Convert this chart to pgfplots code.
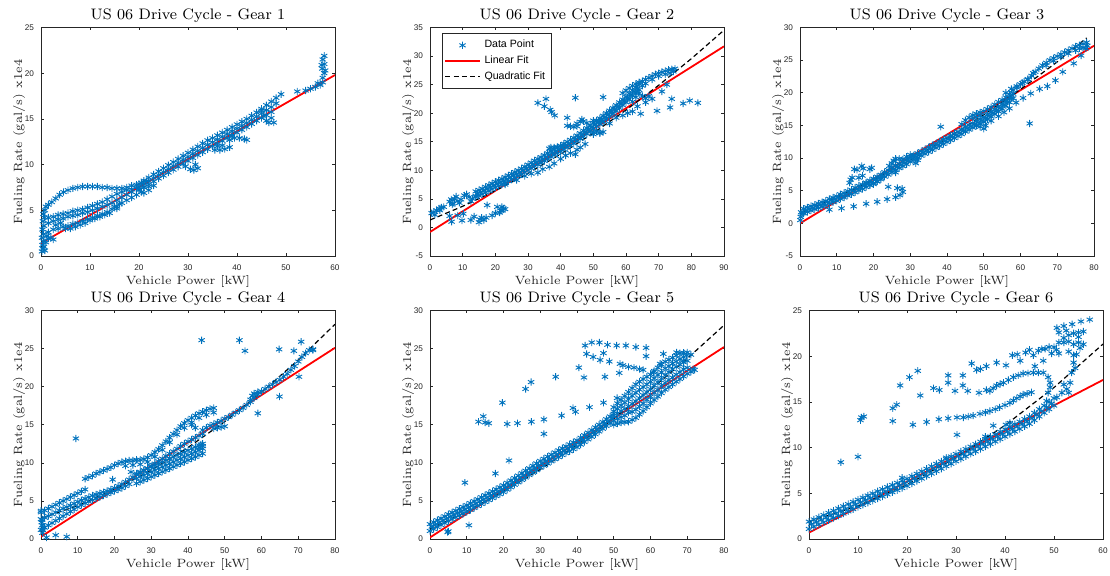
\documentclass[border=0pt]{standalone}
\usepackage{fontspec}
\setsansfont{Liberation Sans}
\usepackage{pgfplots}
\pgfplotsset{compat=1.18}

\definecolor{mblue}{RGB}{0,114,189}
\definecolor{axgray}{RGB}{38,38,38}

\pgfplotsset{
  gear/.style={
    scale only axis, width=147pt, height=114.25pt, anchor=south west,
    tick align=inside, major tick length=1.5pt,
    axis line style={draw=axgray, line width=0.4pt},
    every tick/.style={draw=axgray, line width=0.3pt},
    ticklabel style={font=\sffamily\fontsize{4.1}{4.5}\selectfont, text=axgray},
    xticklabel style={yshift=-0.8pt},
    /pgf/number format/assume math mode=true,
    xlabel={Vehicle Power [kW]},
    ylabel={Fueling Rate (gal/s) x1e4},
    label style={font=\fontsize{6}{7}\selectfont, text=axgray},
    xlabel style={yshift=4.5pt},
    ylabel style={yshift=-7pt},
    title style={font=\fontsize{7.6}{8.5}\selectfont, inner sep=1pt, yshift=-4.6pt},
  },
  dp/.style={only marks, mark=asterisk, mark size=1.8pt, color=mblue,
    mark options={line width=0.45pt}},
  lin/.style={no marks, color=red, line width=0.9pt},
  quad/.style={no marks, color=black, line width=0.6pt, dash pattern=on 2.5pt off 1.6pt},
}

\begin{document}
\begin{tikzpicture}
\path[use as bounding box] (0,0) rectangle (555pt,288pt);

% ---------------- Gear 1
\begin{axis}[gear, at={(20.5pt,160pt)}, title={US 06 Drive Cycle - Gear 1},
  xmin=0, xmax=60, ymin=0, ymax=25, xtick={0,10,...,60}, ytick={0,5,...,25}]
\addplot[dp] coordinates {(0.2,0.5) (0.4,0.8) (0.3,1.2) (0.6,1.0) (0.5,1.6) (0.2,2.0) (0.5,2.4) (0.3,2.9) (0.6,3.3) (0.4,3.8) (0.7,4.2) (0.5,4.6) (0.8,5.0) (1.0,5.4) (1.2,2.2) (1.0,1.5) (0.8,0.6) (1.5,1.9)
 (1.5,5.6) (2.2,5.9) (3,6.3) (3.8,6.7) (4.6,7.0) (5.5,7.2) (6.5,7.4) (7.5,7.5) (8.5,7.6) (9.5,7.6) (10.5,7.6) (11.5,7.6) (12.5,7.5) (13.5,7.5) (14.5,7.4) (15.5,7.4) (16.5,7.4) (17.5,7.5) (18.5,7.7) (19.5,7.8) (20.5,8.0) (21.5,8.2)
 (1.5,4.2) (2.5,4.3) (3.5,4.5) (4.5,4.6) (5.5,4.7) (6.5,4.9) (7.5,5.0) (8.5,5.1) (9.5,5.3) (10.5,5.5) (11.5,5.7) (12.5,5.9) (13.5,6.2) (14.5,6.5) (15.5,6.8) (16.5,7.0) (17.5,7.2) (18.5,7.3) (19.5,7.5)
 (1.5,3.6) (2.5,3.8) (3.5,4.0) (4.5,4.1) (5.5,4.3) (6.5,4.4) (7.5,4.5) (8.5,4.7) (9.5,4.8) (10.5,5.0) (11.5,5.2) (12.5,5.4) (13.5,5.6) (14.5,5.8) (15.5,6.1) (16.5,6.4) (17.5,6.7) (18.5,7.0)
 (1.5,2.6) (2.5,2.9) (3.5,3.0) (4.5,3.2) (5.5,3.3) (6.5,3.5) (7.5,3.6) (8.5,3.8) (9.5,4.0) (10.5,4.2) (11.5,4.4) (12.5,4.6) (13.5,4.8) (14.5,5.1) (15.5,5.4) (16.5,5.8) (17.5,6.1) (18.5,6.4) (19.5,6.7) (20.5,7.0)
 (2,2.0) (2.5,1.8) (3,3.4) (4,3.6) (5,3.0) (6,3.0) (7,3.2) (8,3.4) (9,3.6) (10,3.9) (11,4.1) (12,4.3) (13,4.5) (14,4.7) (15,5.4) (15.5,5.2) (16,5.7)
 (20,7.3) (21,7.5) (22,7.6) (21,6.9) (22,7.2) (23,7.7)
 (20,7.9) (21,8.24) (22,8.58) (23,8.92) (24,9.26) (25,9.6) (26,9.94) (27,10.28) (28,10.62) (29,10.96) (30,11.3) (31,11.64) (32,11.98) (33,12.32) (34,12.66) (35,12.9) (36,13.2) (37,13.5) (38,13.8) (39,14.1) (40,14.4) (41,14.7) (42,15.0) (43,15.35) (44,15.7) (45,16.1) (46,16.5) (47,16.9) (48,17.3) (49,17.7)
 (20,7.55) (21,7.88) (22,8.21) (23,8.54) (24,8.87) (25,9.2) (26,9.53) (27,9.86) (28,10.19) (29,10.52) (30,10.85) (31,11.18) (32,11.51) (33,11.84) (34,12.17) (35,12.45) (36,12.75) (37,13.05) (38,13.35) (39,13.65) (40,13.95) (41,14.25) (42,14.55) (43,14.9) (44,15.25) (45,15.6) (46,15.95) (47,16.3) (48,16.7)
 (20,7.2) (21,7.52) (22,7.84) (23,8.16) (24,8.48) (25,8.8) (26,9.12) (27,9.44) (28,9.76) (29,10.08) (30,10.4) (31,10.72) (32,11.04) (33,11.36) (34,11.68) (35,12.0) (36,12.3) (37,12.6) (38,12.9) (39,13.2) (40,13.5) (41,13.8) (42,14.1) (43,14.45) (44,14.8) (45,15.1) (46,15.4) (47,15.75)
 (29.5,9.8) (30.5,9.5) (31.2,9.4) (32,9.6) (31.5,10.0)
 (35.5,11.6) (36.5,11.6) (37.5,11.7) (38.5,11.9) (36,12.0) (37,12.1)
 (38.5,12.7) (39.5,12.9) (40.5,12.9) (41.5,12.8) (42,12.7) (39,13.1)
 (45,15.9) (45.5,15.3) (46,14.8) (46.5,14.6) (47.5,14.6) (47,15.1)
 (52.3,18.0) (54,18.1) (55,18.3) (56,18.5) (57,18.7) (57.5,19.0) (56.5,18.9)
 (57.5,19.5) (57.8,20.0) (57.4,20.5) (57.8,21.0) (57.5,21.5) (57.8,21.9) (57.3,20.9) (58,20.3)};
\addplot[lin] coordinates {(0,1.4) (60,19.8)};
\end{axis}

% ---------------- Gear 2
\begin{axis}[gear, at={(215pt,160pt)}, title={US 06 Drive Cycle - Gear 2},
  xmin=0, xmax=90, ymin=-5, ymax=35, xtick={0,10,...,90}, ytick={-5,0,...,35},
  legend style={at={(0.04,0.975)}, anchor=north west, font=\sffamily\fontsize{5.3}{6}\selectfont,
    draw=axgray, line width=0.4pt, inner sep=1.2pt, row sep=-1.5pt},
  legend cell align=left]
\addplot[dp] coordinates {(0.5,2.5) (1.2,2.7) (2,3.0) (2.8,3.3) (3.5,3.5) (4.2,3.6) (1.5,2.2) (3,3.0)
 (6,4.5) (6.5,4.9) (7,4.2) (7.5,5.0) (8,5.4) (8.5,4.6) (9,4.3) (9.5,4.9) (10.5,5.6) (11.2,5.8) (12,5.3) (12.5,4.6) (13,5.0) (6.8,4.0) (14,5.5)
 (6,2.0) (6.6,1.0) (8.5,2.1) (9.8,1.2) (10.2,2.4) (12.5,1.3) (13.5,1.9) (15,0.9) (15.3,1.4) (15.8,1.7) (16.5,1.3) (17.2,1.7) (17.5,3.9) (19,2.1) (20,2.5) (20.6,3.6) (21.3,2.6) (22,3.0) (22.5,3.3) (23,3.2) (22,3.6) (21.7,2.9)
 (14,6.3) (15,6.55) (16,6.8) (17,7.1) (18,7.4) (19,7.7) (20,8.0) (21,8.25) (22,8.5) (23,8.8) (24,9.1) (25,9.4) (26,9.7) (27,10.0) (28,10.3) (29,10.65) (30,11.0) (31,11.35) (32,11.7) (33,12.0) (34,12.3) (35,12.65) (36,13.0) (37,13.35) (38,13.7) (39,14.0) (40,14.3) (41,14.65) (42,15.0) (43,15.35) (44,15.7) (45,16.1) (46,16.5) (47,16.95) (48,17.4) (49,17.85) (50,18.3) (51,18.7) (52,19.1) (53,19.55) (54,20.0) (55,20.45) (56,20.9) (57,21.4) (58,21.9) (59,22.4) (60,22.9) (61,23.45) (62,24.0) (63,24.55) (64,25.1)
 (14,5.3) (15,5.55) (16,5.8) (17,6.1) (18,6.4) (19,6.7) (20,7.0) (21,7.25) (22,7.5) (23,7.8) (24,8.1) (25,8.4) (26,8.7) (27,9.0) (28,9.3) (29,9.65) (30,10.0) (31,10.35) (32,10.7) (33,11.0) (34,11.3) (35,11.65) (36,12.0) (37,12.35) (38,12.7) (39,13.0) (40,13.3) (41,13.65) (42,14.0) (43,14.35) (44,14.7) (45,15.1) (46,15.5) (47,15.95) (48,16.4) (49,16.85) (50,17.3) (51,17.7) (52,18.1) (53,18.55) (54,19.0) (55,19.45) (56,19.9) (57,20.4) (58,20.9) (59,21.4) (60,21.9) (61,22.45) (62,23.0) (63,23.55) (64,24.1)
 (14.5,5.93) (15.5,6.18) (16.5,6.45) (17.5,6.75) (18.5,7.05) (19.5,7.35) (20.5,7.63) (21.5,7.88) (22.5,8.15) (23.5,8.45) (24.5,8.75) (25.5,9.05) (26.5,9.35) (27.5,9.65) (28.5,9.98) (29.5,10.33) (30.5,10.68) (31.5,11.03) (32.5,11.35) (33.5,11.65) (34.5,11.98) (35.5,12.33) (36.5,12.68) (37.5,13.03) (38.5,13.35) (39.5,13.65) (40.5,13.98) (41.5,14.33) (42.5,14.68) (43.5,15.03) (44.5,15.4) (45.5,15.8) (46.5,16.23) (47.5,16.68) (48.5,17.13) (49.5,17.58) (50.5,18.0) (51.5,18.4) (52.5,18.83) (53.5,19.28) (54.5,19.73) (55.5,20.18) (56.5,20.65) (57.5,21.15) (58.5,21.65) (59.5,22.15) (60.5,22.68) (61.5,23.23) (62.5,23.78) (63.5,24.33)
 (59,23.5) (60,24.0) (61,24.4) (62,24.8) (63,25.1) (64,25.4) (65,25.6) (66,25.9) (67,26.2) (68,26.5) (69,26.8) (70,27.0) (71,27.2) (72,27.4) (73,27.6) (74,27.7) (75,27.8) (74.5,27.3) (73.5,27.0) (72,26.8) (70,26.5) (68,25.9) (66,25.2) (65,24.8) (64,23.5) (65,23.0) (66,22.6) (63,22.8) (62,22.0)
 (23,7.5) (26.5,8.3) (29,9.0) (31,9.4) (33,9.6) (34.5,10.2) (36.5,10.6) (38,11.2) (40,12.0) (41.5,12.6) (43,13.0) (44.5,12.8) (45,13.6) (46,14.0) (47.5,14.6) (50,16.3) (52,16.5) (55,18.2) (57,19.2) (59,19.6) (60.5,20.0) (62,20.3) (64.5,19.9) (63.5,21.2) (66,21.9) (67,23.0) (68,22.5) (69.5,20.4) (71,23.8) (72.5,25.0) (73.5,21.0) (74,22.5) (77.5,21.7) (79.5,22.2) (82,21.8)
 (33,21.8) (35,21.2) (35.5,22.5) (36.8,20.6) (37.2,20.2) (38.2,19.6) (42,19.2) (44.5,22.7) (53,22.8)
 (42,17.8) (43,17.7) (44,17.6) (45,17.7) (46,18.5) (47,18.6) (48,18.3) (46.5,18.9) (45,18.2)
 (37,14.0) (38,14.0) (39,14.1) (40,14.2) (41,14.3) (36.5,13.8)
 (50,16.7) (51,16.8) (52,16.6) (53,16.7) (50,18.7) (51,18.6) (52.5,18.5)};
\addlegendentry{Data Point}
\addplot[lin] coordinates {(0,-0.8) (90,31.7)};
\addlegendentry{Linear Fit}
\addplot[quad] coordinates {(0,1.30) (10,3.70) (20,6.42) (30,9.47) (40,12.84) (50,16.53) (60,20.54) (70,24.88) (80,29.54) (90,34.53)};
\addlegendentry{Quadratic Fit}
\end{axis}

% ---------------- Gear 3
\begin{axis}[gear, at={(400pt,160pt)}, title={US 06 Drive Cycle - Gear 3},
  xmin=0, xmax=80, ymin=-5, ymax=30, xtick={0,10,...,80}, ytick={-5,0,...,30}]
\addplot[dp] coordinates {(0.1,0.5) (0.2,1.0) (0.3,1.7) (0.6,1.5)
 (1,2.25) (2,2.45) (3,2.65) (4,2.85) (5,3.05) (6,3.25) (7,3.45) (8,3.75) (9,3.95) (10,4.15) (11,4.45) (12,4.65) (13,4.95) (14,5.15) (15,5.45) (16,5.75) (17,5.95) (18,6.25) (19,6.55) (20,6.85) (21,7.15) (22,7.45) (23,7.85) (24,8.15) (25,8.55) (26,8.85) (27,9.15) (28,9.45) (29,9.75) (30,10.15) (31,10.45) (32,10.75) (33,11.05) (34,11.35) (35,11.65) (36,11.95) (37,12.25) (38,12.55) (39,12.85) (40,13.15) (41,13.45) (42,13.75) (43,14.05) (44,14.35) (45,14.75) (46,15.05) (47,15.35) (48,15.65) (49,15.95) (50,16.25) (51,16.65) (52,17.05) (53,17.45) (54,17.85) (55,18.25) (56,18.75) (57,19.25) (58,19.85)
 (1,1.55) (2,1.75) (3,1.95) (4,2.15) (5,2.35) (6,2.55) (7,2.75) (8,3.05) (9,3.25) (10,3.45) (11,3.75) (12,3.95) (13,4.25) (14,4.45) (15,4.75) (16,5.05) (17,5.25) (18,5.55) (19,5.85) (20,6.15) (21,6.45) (22,6.75) (23,7.15) (24,7.45) (25,7.85) (26,8.15) (27,8.45) (28,8.75) (29,9.05) (30,9.45) (31,9.75) (32,10.05) (33,10.35) (34,10.65) (35,10.95) (36,11.25) (37,11.55) (38,11.85) (39,12.15) (40,12.45) (41,12.75) (42,13.05) (43,13.35) (44,13.65) (45,14.05) (46,14.35) (47,14.65) (48,14.95) (49,15.25) (50,15.55) (51,15.95) (52,16.35) (53,16.75) (54,17.15) (55,17.55) (56,18.05) (57,18.55) (58,19.15)
 (1.5,2.0) (2.5,2.2) (3.5,2.4) (4.5,2.6) (5.5,2.8) (6.5,3.0) (7.5,3.25) (8.5,3.5) (9.5,3.7) (10.5,3.95) (11.5,4.2) (12.5,4.45) (13.5,4.7) (14.5,4.95) (15.5,5.25) (16.5,5.5) (17.5,5.75) (18.5,6.05) (19.5,6.35) (20.5,6.65) (21.5,6.95) (22.5,7.3) (23.5,7.65) (24.5,8.0) (25.5,8.35) (26.5,8.65) (27.5,8.95) (28.5,9.25) (29.5,9.6) (30.5,9.95) (31.5,10.25) (32.5,10.55) (33.5,10.85) (34.5,11.15) (35.5,11.45) (36.5,11.75) (37.5,12.05) (38.5,12.35) (39.5,12.65) (40.5,12.95) (41.5,13.25) (42.5,13.55) (43.5,13.85) (44.5,14.2) (45.5,14.55) (46.5,14.85) (47.5,15.15) (48.5,15.45) (49.5,15.75) (50.5,16.1) (51.5,16.5) (52.5,16.9) (53.5,17.3) (54.5,17.7) (55.5,18.15) (56.5,18.65) (57.5,19.2)
 (44,15.2) (45,15.8) (46,16.2) (47,16.6) (48,16.8) (49,17.0) (50,17.2) (51,17.5) (52,17.8) (53,18.2) (54,18.6) (55,18.9) (56,19.3) (57,19.8) (47,16.2) (48,16.3) (49,16.5)
 (58,20.4) (59,20.8) (60,21.3) (61,21.7) (62,22.1) (63,22.6) (64,23.2) (65,23.7) (66,24.2) (67,24.6) (68,25.0) (69,25.3) (70,25.6) (71,25.9) (72,26.2) (73,26.5) (74,26.8) (75,27.1) (76,27.3) (77,27.5) (78,27.7) (78.2,27.2) (77.8,26.8) (77,26.9) (76,26.8) (75,26.5) (73,26.0) (71,25.5) (69,24.9) (67,24.2)
 (56,20.0) (57.5,20.6) (59,21.0) (60.5,21.5) (62,22.0) (63.5,23.0)
 (8,2.1) (11.3,2.3) (14.6,2.6) (18,3.0) (21,3.3) (23.7,3.7) (26,4.0) (27.2,4.3) (28,4.8) (27.8,5.3) (26.5,5.4) (24,5.6)
 (13.5,6.2) (13.8,6.7) (14.2,7.0) (14.8,8.3) (15.5,8.2) (16.8,8.8) (17.2,8.4) (19,8.3) (19.5,8.5) (16,7.0) (17,7.3) (18,6.1) (19,5.9) (20,6.0) (21,6.4) (22,7.0)
 (25.5,9.6) (26,9.9) (27,9.9) (28,9.8) (29,10.2) (30,10.5) (31,10.3) (32,9.7) (31.5,9.2) (24.3,8.8) (26,7.8) (25,9.2)
 (38.3,14.8)
 (50,14.5) (50.5,15.0) (52,15.7) (54,16.4) (55.5,17.0) (57,17.6) (58.8,18.5) (60.7,19.2) (62.8,19.9) (65.2,20.6) (67.3,21.0) (69.5,21.9) (71.5,23.2) (74.5,24.5) (76.5,25.7) (62.5,15.3) (48,15.0) (49,14.8)};
\addplot[lin] coordinates {(0,0) (80,27.2)};
\addplot[quad] coordinates {(0,1.57) (10,3.98) (20,6.69) (30,9.70) (40,13.01) (50,16.62) (60,20.53) (70,24.74) (78,28.4)};
\end{axis}

% ---------------- Gear 4
\begin{axis}[gear, at={(20.5pt,18.5pt)}, title={US 06 Drive Cycle - Gear 4},
  xmin=0, xmax=80, ymin=0, ymax=30, xtick={0,10,...,80}, ytick={0,5,...,30}]
\addplot[dp] coordinates {(0,3.7) (0.3,2.5) (0.3,1.8) (0.5,1.2) (0.4,0.8) (1.5,0.2) (4,0.5) (7,0.3) (0.2,2.2) (0.6,1.5)
 (0,3.5) (1,3.75) (2,4.0) (3,4.25) (4,4.5) (5,4.75) (6,5.0) (7,5.25) (8,5.5) (9,5.75) (10,6.0) (11,6.25) (12,6.5)
 (12,7.9) (13,8.1) (14,8.3) (15,8.6) (16,8.8) (17,9.0) (18,9.2) (19,9.4) (20,9.7) (21,9.9) (22,10.1)
 (23,10.2) (24,10.3) (25,10.3) (26,10.4) (27,10.4) (28,10.5) (29,10.7) (30,11.0) (31,11.4) (32,11.8) (33,12.3) (34,12.8) (35,13.3) (36,13.8) (37,14.3) (38,14.8) (39,15.2) (40,15.6) (41,15.9) (42,16.2) (43,16.5) (44,16.7) (45,16.9) (46,17.1) (47,17.2)
 (23,9.6) (25,9.7) (27,9.8) (29,10.1) (31,10.8) (33,11.7) (35,12.7) (37,13.7) (39,14.6) (41,15.3) (43,15.9) (45,16.3) (47,16.6)
 (0,2.6) (1,2.8) (2,3.0) (3,3.25) (4,3.5) (5,3.75) (6,4.0) (7,4.2) (8,4.4) (9,4.65) (10,4.9) (11,5.1) (12,5.3) (13,5.5) (14,5.7) (15,5.85) (16,6.0) (17,6.15) (18,6.3) (19,6.5) (20,6.7) (21,6.95) (22,7.2) (23,7.5) (24,7.8) (25,8.1) (26,8.4) (27,8.7) (28,9.0) (29,9.3) (30,9.6) (31,9.9) (32,10.2) (33,10.55) (34,10.9) (35,11.2) (36,11.5) (37,11.85) (38,12.2) (39,12.5) (40,12.8) (41,13.05) (42,13.3) (43,13.55) (44,13.8)
 (0,1.2) (1,1.5) (2,1.8) (3,2.1) (4,2.4) (5,2.7) (6,3.0) (7,3.3) (8,3.6) (9,3.9) (10,4.2) (11,4.45) (12,4.7) (13,4.9) (14,5.1) (15,5.3) (16,5.5) (17,5.7) (18,5.9) (19,6.1) (20,6.3) (21,6.5) (22,6.7) (23,6.95) (24,7.2)
 (26,7.3) (27,7.52) (28,7.73) (29,7.95) (30,8.17) (31,8.39) (32,8.6) (33,8.82) (34,9.04) (35,9.25) (36,9.47) (37,9.69) (38,9.9) (39,10.12) (40,10.34) (41,10.56) (42,10.77) (43,10.99) (44,11.21)
 (26,7.95) (27,8.17) (28,8.38) (29,8.6) (30,8.82) (31,9.04) (32,9.25) (33,9.47) (34,9.69) (35,9.9) (36,10.12) (37,10.34) (38,10.55) (39,10.77) (40,10.99) (41,11.21) (42,11.42) (43,11.64) (44,11.86)
 (26,8.6) (27,8.82) (28,9.03) (29,9.25) (30,9.47) (31,9.69) (32,9.9) (33,10.12) (34,10.34) (35,10.55) (36,10.77) (37,10.99) (38,11.2) (39,11.42) (40,11.64) (41,11.86) (42,12.07) (43,12.29) (44,12.51)
 (44,14.3) (45,14.6) (46,14.9) (47,15.1) (48,15.3) (49,15.5) (50,15.8) (51,16.0) (52,16.3) (53,16.6) (54,16.9) (55,17.2) (56,17.6) (57,18.0) (58,18.5) (59,19.0) (60,19.4) (61,19.7) (62,20.0) (63,20.3) (64,20.6) (65,20.9) (66,21.3) (67,21.7) (68,22.2) (69,22.7) (70,23.3) (71,23.9) (72,24.4) (73,24.8) (74,24.9)
 (57,18.3) (57.5,18.8) (58,19.1) (59,19.3) (47,14.5) (48,14.6) (49,14.7) (50,14.8) (43,12.0) (43.5,12.4) (44,12.2)
 (9.5,13.2) (43.7,26.1) (54,26.1) (55.5,24.7) (64.8,24.9) (68.8,24.7) (70.8,25.9) (74,24.8) (70.2,21.3) (64.9,18.7) (59,16.5) (41,15.0) (42,14.6) (24.5,8.8) (19.5,7.8)};
\addplot[lin] coordinates {(0,0.3) (80,25.1)};
\addplot[quad] coordinates {(0,2.70) (10,4.39) (20,6.50) (30,9.04) (40,12.01) (50,15.41) (60,19.24) (70,23.50) (80,28.19)};
\end{axis}

% ---------------- Gear 5
\begin{axis}[gear, at={(215pt,18.5pt)}, title={US 06 Drive Cycle - Gear 5},
  xmin=0, xmax=80, ymin=0, ymax=30, xtick={0,10,...,80}, ytick={0,5,...,30}]
\addplot[dp] coordinates {(0,1.95) (1,2.21) (2,2.47) (3,2.73) (4,2.99) (5,3.25) (6,3.49) (7,3.73) (8,3.97) (9,4.21) (10,4.45) (11,4.71) (12,4.97) (13,5.23) (14,5.49) (15,5.75) (16,6.01) (17,6.27) (18,6.53) (19,6.79) (20,7.05) (21,7.37) (22,7.69) (23,8.01) (24,8.33) (25,8.65) (26,8.97) (27,9.29) (28,9.61) (29,9.93) (30,10.25) (31,10.53) (32,10.81) (33,11.09) (34,11.37) (35,11.65) (36,11.91) (37,12.17) (38,12.43) (39,12.69) (40,12.95) (41,13.29) (42,13.63) (43,13.97) (44,14.31) (45,14.65) (46,15.01) (47,15.37) (48,15.73) (49,16.09) (50,16.45)
 (0,1.05) (1,1.31) (2,1.57) (3,1.83) (4,2.09) (5,2.35) (6,2.59) (7,2.83) (8,3.07) (9,3.31) (10,3.55) (11,3.81) (12,4.07) (13,4.33) (14,4.59) (15,4.85) (16,5.11) (17,5.37) (18,5.63) (19,5.89) (20,6.15) (21,6.47) (22,6.79) (23,7.11) (24,7.43) (25,7.75) (26,8.07) (27,8.39) (28,8.71) (29,9.03) (30,9.35) (31,9.63) (32,9.91) (33,10.19) (34,10.47) (35,10.75) (36,11.01) (37,11.27) (38,11.53) (39,11.79) (40,12.05) (41,12.39) (42,12.73) (43,13.07) (44,13.41) (45,13.75) (46,14.11) (47,14.47) (48,14.83) (49,15.19) (50,15.55)
 (0.5,1.63) (1.5,1.89) (2.5,2.15) (3.5,2.41) (4.5,2.67) (5.5,2.92) (6.5,3.16) (7.5,3.40) (8.5,3.64) (9.5,3.88) (10.5,4.13) (11.5,4.39) (12.5,4.65) (13.5,4.91) (14.5,5.17) (15.5,5.43) (16.5,5.69) (17.5,5.95) (18.5,6.21) (19.5,6.47) (20.5,6.76) (21.5,7.08) (22.5,7.40) (23.5,7.72) (24.5,8.04) (25.5,8.36) (26.5,8.68) (27.5,9.0) (28.5,9.32) (29.5,9.64) (30.5,9.94) (31.5,10.22) (32.5,10.5) (33.5,10.78) (34.5,11.06) (35.5,11.33) (36.5,11.59) (37.5,11.85) (38.5,12.11) (39.5,12.37) (40.5,12.67) (41.5,13.01) (42.5,13.35) (43.5,13.69) (44.5,14.03) (45.5,14.38) (46.5,14.74) (47.5,15.1) (48.5,15.46) (49.5,15.82)
 (50,17.3) (51,17.8) (52,18.3) (53,18.8) (54,19.3) (55,19.8) (56,20.3) (57,20.65) (58,21.0) (59,21.3) (60,21.6) (61,22.05) (62,22.5) (63,22.9) (64,23.3) (65,23.55) (66,23.8) (67,24.1) (68,24.4) (69,24.45) (70,24.5) (71,24.2)
 (50,16.2) (51,16.5) (52,16.8) (53,17.1) (54,17.4) (55,17.75) (56,18.1) (57,18.5) (58,18.9) (59,19.3) (60,19.7) (61,20.15) (62,20.6) (63,21.05) (64,21.5) (65,21.9) (66,22.3) (67,22.6) (68,22.9) (69,23.2) (70,23.4)
 (50,15.0) (51,15.15) (52,15.3) (53,15.35) (54,15.4) (55,15.65) (56,15.9) (57,16.35) (58,16.8) (59,17.3) (60,17.8) (61,18.25) (62,18.7) (63,19.15) (64,19.6) (65,19.95) (66,20.3) (67,20.65) (68,21.0) (69,21.35) (70,21.7) (71,21.95) (72,22.2)
 (50,16.75) (52,17.55) (54,18.35) (56,19.2) (58,19.95) (60,20.65) (62,21.55) (64,22.4) (66,23.05) (68,23.65)
 (51,15.8) (53,16.2) (55,16.7) (57,17.4) (59,18.3) (61,19.2) (63,20.1) (65,20.9) (67,21.6) (69,22.3)
 (51,17.1) (53,17.9) (55,18.8) (57,19.6) (59,20.3) (61,21.1) (63,21.9) (65,22.7) (67,23.3) (69,23.9)
 (52,16.0) (54,16.6) (56,17.0) (58,17.8) (60,18.7) (62,19.6) (64,20.5) (66,21.2) (68,21.9) (70,22.5)
 (63.5,24.3) (67.1,24.5) (69.8,24.1) (68.9,23.4) (62.6,23.0) (60.8,21.9) (71.6,22.3)
 (44.0,25.8) (42.2,25.4) (42.6,24.3) (44.4,23.9) (46.1,25.8) (48.3,25.5) (50.8,25.4) (53.3,25.4) (56.0,25.2) (58.8,25.1) (58.8,24.0) (47.2,24.4) (46.3,23.5) (48.8,23.3) (51.7,23.0) (52.5,22.8) (54,22.6) (55.5,22.5) (57,22.3) (58,22.2) (51.5,21.8) (47.6,21.3) (40.5,22.5) (41.9,21.2) (47.2,17.9) (50.9,18.5) (38.9,17.2) (39.6,16.7) (43.4,17.3) (35.8,16.2)
 (9.5,7.4) (17.8,8.6) (21.5,10.3) (19.7,17.9) (26,19.7) (27.5,20.6) (34.2,21.3) (13.2,15.4) (14.5,16.1) (15,15.3) (16,15.2) (21,15.1) (23.8,15.2) (27.6,15.4) (31,15.7) (31,13.8) (10.6,1.8) (5,1.0) (4.8,0.9)};
\addplot[lin] coordinates {(0,0.2) (80,25.2)};
\addplot[quad] coordinates {(0,1.30) (10,3.62) (20,6.23) (30,9.13) (40,12.33) (50,15.83) (60,19.61) (70,23.69) (80,28.06)};
\end{axis}

% ---------------- Gear 6
\begin{axis}[gear, at={(404.5pt,18.5pt)}, title={US 06 Drive Cycle - Gear 6},
  xmin=0, xmax=60, ymin=0, ymax=25, xtick={0,10,...,60}, ytick={0,5,...,25}]
\addplot[dp] coordinates {(0,1.9) (1,2.14) (2,2.38) (3,2.62) (4,2.86) (5,3.1) (6,3.34) (7,3.58) (8,3.82) (9,4.06) (10,4.3) (11,4.53) (12,4.76) (13,4.99) (14,5.22) (15,5.45) (16,5.68) (17,5.91) (18,6.14) (19,6.37) (20,6.6) (21,6.87) (22,7.14) (23,7.41) (24,7.68) (25,7.95) (26,8.22) (27,8.49) (28,8.76) (29,9.03) (30,9.3) (31,9.57) (32,9.84) (33,10.11) (34,10.38) (35,10.65) (36,10.92) (37,11.19) (38,11.46) (39,11.73) (40,12.0) (41,12.28) (42,12.56) (43,12.84) (44,13.12) (45,13.4) (46,13.8) (47,14.2) (48,14.6) (49,15.0) (50,15.4)
 (0,1.1) (1,1.34) (2,1.58) (3,1.82) (4,2.06) (5,2.3) (6,2.54) (7,2.78) (8,3.02) (9,3.26) (10,3.5) (11,3.73) (12,3.96) (13,4.19) (14,4.42) (15,4.65) (16,4.88) (17,5.11) (18,5.34) (19,5.57) (20,5.8) (21,6.07) (22,6.34) (23,6.61) (24,6.88) (25,7.15) (26,7.42) (27,7.69) (28,7.96) (29,8.23) (30,8.5) (31,8.77) (32,9.04) (33,9.31) (34,9.58) (35,9.85) (36,10.12) (37,10.39) (38,10.66) (39,10.93) (40,11.2) (41,11.48) (42,11.76) (43,12.04) (44,12.32) (45,12.6) (46,13.0) (47,13.4) (48,13.8) (49,14.2) (50,14.6)
 (0.5,1.62) (1.5,1.86) (2.5,2.1) (3.5,2.34) (4.5,2.58) (5.5,2.82) (6.5,3.06) (7.5,3.3) (8.5,3.54) (9.5,3.78) (10.5,4.02) (11.5,4.25) (12.5,4.48) (13.5,4.71) (14.5,4.94) (15.5,5.17) (16.5,5.4) (17.5,5.63) (18.5,5.86) (19.5,6.09) (20.5,6.34) (21.5,6.61) (22.5,6.88) (23.5,7.15) (24.5,7.42) (25.5,7.69) (26.5,7.96) (27.5,8.23) (28.5,8.5) (29.5,8.77) (30.5,9.04) (31.5,9.31) (32.5,9.58) (33.5,9.85) (34.5,10.12) (35.5,10.39) (36.5,10.66) (37.5,10.93) (38.5,11.2) (39.5,11.47) (40.5,11.74) (41.5,12.02) (42.5,12.3) (43.5,12.58) (44.5,12.86) (45.5,13.2) (46.5,13.6) (47.5,14.0) (48.5,14.4) (49.5,14.8)
 (36,11.2) (41,12.7) (40.2,12.5) (28,8.9) (19,6.7)
 (50.6,15.5) (51.6,16.0) (52.6,16.4) (53.3,17.1) (53.6,18.2) (54.3,18.7) (54.0,19.3) (54.6,20.2) (55.3,20.9) (52,16.9) (53,16.0)
 (57.3,24.0) (55.5,23.8) (53.7,23.5) (52.0,23.3) (50.6,23.1)
 (50,21.0) (51,21.5) (52,22.0) (53,22.3) (54,22.5) (55,22.6) (56,22.7) (51,22.6) (52.5,22.8) (52,21.5) (54,21.3) (56,21.3) (55,21.5) (50.5,20.7) (53,20.5) (54,20.1) (51,20.3) (49.5,20.3) (53,21.6) (55,22.1)
 (33.2,19.2) (34.2,18.5) (35,18.6) (36.2,18.9) (38.3,19.3) (40.2,19.0) (41.5,20.1) (43.1,19.5) (44.2,20.4) (45.8,20.1) (46.8,20.6) (47.8,19.5) (48.2,20.8) (42.5,20.2) (45,20.7) (47.5,20.8) (49,21.0) (46.1,18.9)
 (28.4,17.9) (28.4,17.1) (31.4,17.9) (31.4,16.8) (29.8,16.2) (32.4,16.2) (34.7,16.0) (36.2,16.3) (25.4,16.5) (26.6,16.3) (22.2,18.4) (20.5,17.7) (18.6,16.8) (17.9,14.7) (17.1,14.3) (17.1,12.9) (22.7,15.7) (21.2,12.5) (24.0,12.8) (26.5,13.1) (28.4,13.2) (30.2,13.3) (30.2,11.4) (31.5,13.3)
 (32.5,13.4) (33.5,13.5) (34.9,13.7) (36,13.85) (36.9,14.0) (38,14.2) (38.9,14.4) (40,14.65) (41.0,14.9) (41.7,15.15) (42.4,15.4) (43.1,15.6) (43.7,15.8) (44.5,15.9) (45.4,16.05)
 (36.9,16.2) (37.6,16.5) (38.3,16.8) (39,16.95) (39.7,17.1) (40.7,17.4) (41.7,17.7) (42.7,17.9) (43.7,18.1) (44.7,18.15) (45.8,18.2) (46.8,18.2) (47.8,18.2) (48.8,17.7) (49.2,17.1) (49.2,16.6) (48.8,16.0) (48.5,15.1)
 (37.6,12.4) (6.5,8.4) (10,9.0) (10.5,13.0) (10.7,13.3) (11.2,13.4)};
\addplot[lin] coordinates {(0,0.7) (60,17.4)};
\addplot[quad] coordinates {(0,1.90) (10,3.62) (20,5.95) (30,8.89) (40,12.43) (50,16.57) (60,21.33)};
\end{axis}
\end{tikzpicture}
\end{document}
